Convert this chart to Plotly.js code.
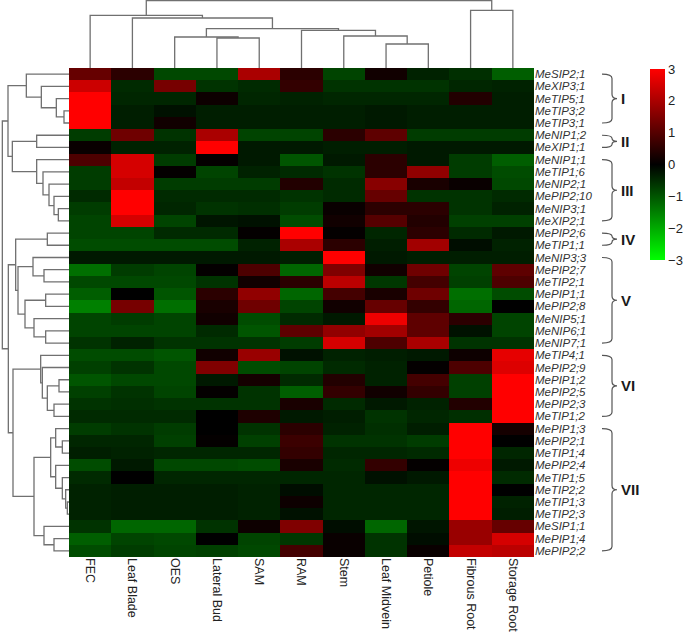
<!DOCTYPE html>
<html>
<head>
<meta charset="utf-8">
<script src="https://cdn.plot.ly/plotly-3.0.1.min.js"></script>
<style>html,body{margin:0;padding:0;background:#fff;}#chart{width:685px;height:638px;}</style>
</head>
<body>
<div id="chart"></div>
<script>
// ---- Data ----
const tissues = ["FEC","Leaf Blade","OES","Lateral Bud","SAM","RAM","Stem","Leaf Midvein","Petiole","Fibrous Root","Storage Root"];

const genes = ["MeSIP2;1","MeXIP3;1","MeTIP5;1","MeTIP3;2","MeTIP3;1",
  "MeNIP1;2","MeXIP1;1",
  "MeNIP1;1","MeTIP1;6","MeNIP2;1","MePIP2;10","MeNIP3;1","MeXIP2;1",
  "MePIP2;6","MeTIP1;1",
  "MeNIP3;3","MePIP2;7","MeTIP2;1","MePIP1;1","MePIP2;8","MeNIP5;1","MeNIP6;1","MeNIP7;1",
  "MeTIP4;1","MePIP2;9","MePIP1;2","MePIP2;5","MePIP2;3","MeTIP1;2",
  "MePIP1;3","MePIP2;1","MeTIP1;4","MePIP2;4","MeTIP1;5","MeTIP2;2","MeTIP1;3","MeTIP2;3","MeSIP1;1","MePIP1;4","MePIP2;2"];

// expression values (rows follow genes order, columns follow tissues)
const groupI = [
  [1.2, 0.5, -0.85, -0.85, 2.0, 0.5, -0.8, 0.2, -0.4, -0.55, -1.1],
  [2.4, -0.5, 1.4, -0.6, -0.5, 0.6, -0.6, -0.6, -0.6, -0.45, -0.4],
  [3, -0.45, -0.45, 0.15, -0.45, -0.4, -0.45, -0.45, -0.45, 0.4, -0.35],
  [3, -0.35, -0.2, -0.35, -0.35, -0.35, -0.35, -0.3, -0.35, -0.35, -0.35],
  [3, -0.35, 0.2, -0.35, -0.35, -0.35, -0.35, -0.3, -0.35, -0.35, -0.35]];
const groupII = [
  [-0.7, 1.3, -0.6, 2.0, -0.8, -0.8, 0.5, 1.1, -0.7, -0.7, -0.7],
  [0.1, -0.4, -0.4, 3, -0.3, -0.3, -0.35, -0.35, -0.3, -0.3, -0.3]];
const groupIII = [
  [0.9, 2.5, -0.7, 0.05, -0.3, -1.0, -0.3, 0.5, -0.3, -0.7, -1.1],
  [-0.7, 2.5, 0.05, -0.8, -0.4, -0.5, -0.6, 0.5, 1.7, -0.7, -0.9],
  [-0.7, 2.3, -0.7, -0.7, -0.7, 0.4, -0.5, 1.6, 0.3, 0.1, -0.85],
  [-0.5, 3, -0.5, -0.5, -0.5, -0.6, -0.5, 1.2, -0.6, -0.6, -0.5],
  [-0.7, 3, -0.45, -0.6, -0.55, -0.7, 0.1, 0.5, 0.5, -0.6, -0.4],
  [-0.8, 2.5, -0.8, -0.25, -0.2, -0.9, 0.2, 1.0, 0.4, -0.75, -0.75]];
const groupIV = [
  [-0.8, -0.8, -0.5, -0.5, 0.05, 3, 0.05, -0.45, 0.5, -0.5, -0.3],
  [-0.9, -0.9, -0.9, -0.9, -0.4, 2.0, 0.5, -0.35, 1.9, -0.15, -0.4]];
const groupV = [
  [-0.3, -0.3, -0.3, -0.3, -0.3, -0.35, 3, -0.3, -0.35, -0.35, -0.35],
  [-1.3, -0.7, -0.8, 0.05, 0.9, -1.2, 1.5, 0.2, 1.3, -0.8, 1.1],
  [-0.85, -0.85, -0.85, -0.6, 0.2, 0.5, 2.2, -0.65, 0.8, -0.75, 0.9],
  [-1.1, 0.0, -1.0, 0.5, 1.7, -1.2, 0.8, 0.3, 1.3, -1.3, -0.9],
  [-1.5, 1.4, -1.3, 0.3, 1.3, -0.8, 0.2, 1.2, 0.6, -1.2, 0.0],
  [-0.8, -0.7, -0.8, 0.2, -0.9, -0.5, -0.3, 2.8, 1.1, 0.5, -0.8],
  [-0.8, -0.8, -0.8, -0.5, -1.0, 1.1, 1.7, 1.9, 1.1, -0.2, -0.8],
  [-0.6, -0.4, -0.6, -0.6, -0.6, -0.7, 2.5, 0.9, 2.0, -0.6, -0.6]];
const groupVI = [
  [-0.9, -0.9, -1.0, 0.2, 1.8, -0.2, -0.4, -0.35, -0.3, 0.15, 2.7],
  [-0.75, -0.6, -0.85, 1.5, -0.9, -0.8, -0.5, -0.4, 0.05, 0.9, 2.6],
  [-1.0, -0.85, -0.85, -0.3, 0.25, -0.5, 0.4, -0.4, 0.8, -0.75, 3],
  [-0.75, -0.6, -0.8, 0.05, -0.6, -1.1, 0.6, 0.2, 0.6, -0.75, 3],
  [-0.6, -0.55, -0.6, -0.6, -0.6, 0.3, -0.5, -0.3, -0.4, 0.4, 3],
  [-0.5, -0.5, -0.5, 0.0, 0.35, -0.3, -0.35, -0.6, -0.45, -0.55, 3]];
const groupVII = [
  [-0.7, -0.6, -0.7, 0.0, -0.6, 0.5, -0.4, -0.55, -0.35, 3, 0.25],
  [-0.45, -0.45, -0.75, 0.05, -0.75, 0.7, -0.6, -0.6, -0.7, 3, 0.0],
  [-0.35, -0.4, -0.45, -0.45, -0.45, 0.6, -0.45, -0.45, -0.5, 3, -0.45],
  [-0.9, -0.3, -0.85, -0.85, -0.9, 0.3, -0.5, 0.6, 0.05, 2.8, -0.3],
  [-0.5, 0.0, -0.45, -0.45, -0.45, -0.45, -0.45, -0.2, -0.3, 3, -0.5],
  [-0.4, -0.35, -0.35, -0.35, -0.4, -0.15, -0.45, -0.45, -0.45, 3, 0.0],
  [-0.4, -0.35, -0.35, -0.35, -0.4, 0.15, -0.45, -0.45, -0.45, 3, -0.4],
  [-0.4, -0.35, -0.35, -0.35, -0.4, -0.2, -0.45, -0.45, -0.45, 3, -0.35],
  [-0.6, -1.2, -1.2, -0.6, 0.15, 1.5, -0.15, -1.2, -0.25, 1.8, 1.2],
  [-1.1, -0.8, -0.85, 0.0, -0.8, -0.65, 0.1, -0.6, -0.15, 1.8, 2.5],
  [-0.9, -0.7, -0.8, -0.75, -0.85, 0.8, 0.1, -0.6, 0.1, 2.3, 2.2]];

// cluster groups (first row, last row, label)
const groupNames = ["I","II","III","IV","V","VI","VII"];
const groupFirst = [0, 5, 7, 13, 15, 23, 29];
const groupLast  = [4, 6, 12, 14, 22, 28, 39];

// column dendrogram linkage: node n+k joins A[k] and B[k] at height H[k]
const colLinkA = [3, 2, 7, 6, 5, 12, 1, 0, 9, 18];
const colLinkB = [4, 11, 8, 13, 14, 15, 16, 17, 10, 19];
const colLinkH = [90, 93, 72, 96, 113, 118, 150, 158, 173, 202];

// row dendrogram linkage
const rowLinkA = [3, 2, 1, 0, 5, 11, 10, 9, 8, 7, 44, 43, 13, 16, 15, 18, 21, 20, 55, 54, 52, 25, 27, 61, 24, 23, 30, 29, 35, 34, 33, 32, 67, 38, 37, 72, 65, 60, 51];
const rowLinkB = [4, 40, 41, 42, 6, 12, 45, 46, 47, 48, 49, 50, 14, 17, 53, 19, 22, 56, 57, 58, 59, 26, 28, 62, 63, 64, 31, 66, 36, 68, 69, 70, 71, 39, 73, 74, 75, 76, 77];
const rowLinkH = [15, 38, 83, 128, 97, 32, 45, 60, 78, 97, 170, 183, 65, 75, 108, 70, 70, 105, 132, 153, 160, 30, 45, 65, 80, 85, 20, 40, 5, 10, 20, 40, 55, 45, 75, 105, 168, 182, 200];

// ---- Build ----
const z = [].concat(groupI, groupII, groupIII, groupIV, groupV, groupVI, groupVII);
const xIdx = tissues.map((_, i) => i);
const yIdx = genes.map((_, i) => i);

function dendro(n, A, B, H) {
  const pos = [], hgt = [], p = [], h = [];
  for (let i = 0; i < n; i++) { pos[i] = i; hgt[i] = 0; }
  for (let k = 0; k < A.length; k++) {
    const a = A[k], b = B[k], hh = H[k];
    p.push(pos[a], pos[a], pos[b], pos[b], null);
    h.push(hgt[a], hh, hh, hgt[b], null);
    pos[n + k] = (pos[a] + pos[b]) / 2;
    hgt[n + k] = hh;
  }
  return {p, h};
}
const colD = dendro(tissues.length, colLinkA, colLinkB, colLinkH);
const rowD = dendro(genes.length, rowLinkA, rowLinkB, rowLinkH);

const W = 685, Hgt = 638;
const hmL = 69, hmR = 534, hmT = 68, hmB = 557;
const FONT = "Liberation Sans, Arial, sans-serif";
const lineCol = "#707070";

const traces = [
  {
    type: "heatmap", x: xIdx, y: yIdx, z: z, xaxis: "x", yaxis: "y",
    zmin: -3, zmax: 3,
    colorscale: [[0, "#00ff00"], [0.5, "#000000"], [1, "#ff0000"]],
    colorbar: {
      x: 650 / W, xanchor: "left", xpad: 0,
      y: 1 - 69 / Hgt, yanchor: "top", ypad: 0,
      len: 191 / Hgt, lenmode: "fraction", thickness: 15,
      outlinewidth: 0, ticks: "", tickvals: [-3, -2, -1, 0, 1, 2, 3],
      tickfont: {family: FONT, size: 13, color: "#222"}
    },
    hoverinfo: "skip"
  },
  {
    type: "scatter", mode: "lines", x: colD.p, y: colD.h, xaxis: "x", yaxis: "y2",
    line: {color: lineCol, width: 1.3}, hoverinfo: "skip", showlegend: false
  },
  {
    type: "scatter", mode: "lines", x: rowD.h, y: rowD.p, xaxis: "x2", yaxis: "y",
    line: {color: lineCol, width: 1.3}, hoverinfo: "skip", showlegend: false
  }
];

const shapes = [];
const annotations = [];
const bx0 = 602 / W, bx1 = 612 / W, bx2 = 617 / W;
for (let g = 0; g < groupNames.length; g++) {
  const yt = groupFirst[g], yb = groupLast[g], ym = (yt + yb) / 2;
  const d = Math.min(0.35, (yb - yt) / 4);
  const path = `M${bx0},${yt} Q${bx1},${yt} ${bx1},${yt + d} L${bx1},${ym - d} Q${bx1},${ym} ${bx2},${ym} Q${bx1},${ym} ${bx1},${ym + d} L${bx1},${yb - d} Q${bx1},${yb} ${bx0},${yb}`;
  shapes.push({type: "path", xref: "paper", yref: "y", path: path, line: {color: "#555", width: 1.2}});
  annotations.push({
    xref: "paper", yref: "y", x: 619 / W, y: ym, xanchor: "left", yanchor: "middle",
    text: "<b>" + groupNames[g] + "</b>", showarrow: false,
    font: {family: FONT, size: 15, color: "#1a1a1a"}
  });
}

const layout = {
  width: W, height: Hgt,
  margin: {l: 0, r: 0, t: 0, b: 0},
  paper_bgcolor: "#fff", plot_bgcolor: "#fff",
  showlegend: false,
  xaxis: {
    domain: [hmL / W, hmR / W], range: [-0.5, tissues.length - 0.5], anchor: "y",
    tickvals: xIdx, ticktext: tissues, tickangle: 90, ticks: "",
    showgrid: false, zeroline: false, showline: false,
    tickfont: {family: FONT, size: 12.5, color: "#222"}
  },
  yaxis: {
    domain: [1 - hmB / Hgt, 1 - hmT / Hgt], range: [genes.length - 0.5, -0.5], anchor: "x",
    side: "right", tickvals: yIdx, ticktext: genes, ticks: "",
    showgrid: false, zeroline: false, showline: false,
    tickfont: {family: FONT, size: 11.5, color: "#333", style: "italic"}
  },
  xaxis2: {domain: [0, hmL / W], range: [207, 0], anchor: "y", visible: false, fixedrange: true},
  yaxis2: {domain: [1 - hmT / Hgt, 1], range: [0, 204], anchor: "x", visible: false, fixedrange: true},
  shapes: shapes,
  annotations: annotations
};

Plotly.newPlot("chart", traces, layout, {displayModeBar: false, staticPlot: true});
</script>
</body>
</html>
